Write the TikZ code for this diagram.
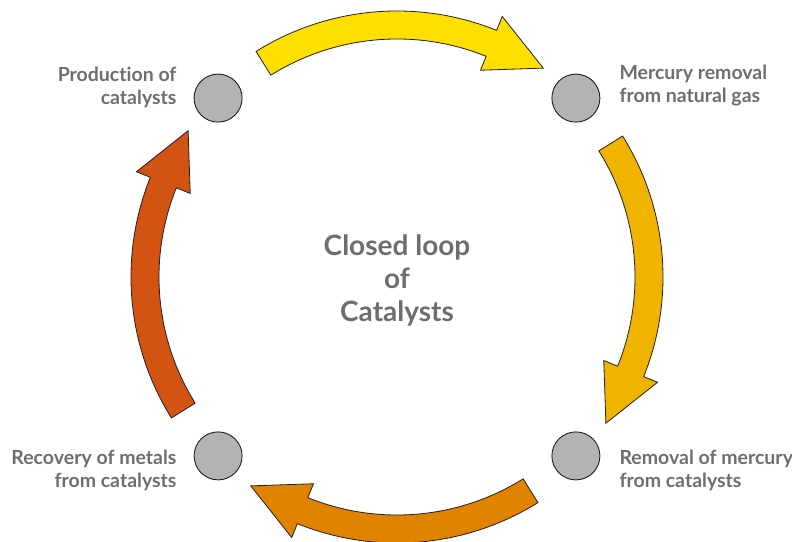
\documentclass[tikz,border=0pt]{standalone}
\usepackage{fontspec}
\setmainfont{Lato}[Ligatures={NoCommon}]
\usetikzlibrary{positioning}
\definecolor{stagegrey}{HTML}{B3B3B4}
\definecolor{labelgrey}{HTML}{6D6E71}
\definecolor{outline}{HTML}{231F20}
\definecolor{loopyellow}{HTML}{FFDF00}
\definecolor{loopamber}{HTML}{F0B400}
\definecolor{looporange}{HTML}{E08300}
\definecolor{loopred}{HTML}{D35313}
\tikzset{
  stage/.style={circle, draw=outline, fill=stagegrey, line width=0.9pt, minimum size=48pt, inner sep=0pt},
  stagetext/.style={text=labelgrey, font=\bfseries\fontsize{19.5}{23}\selectfont, inner sep=0pt},
  loopshaft/.style={draw=outline, line width=0.8pt, line join=miter}
}

\begin{document}
\begin{tikzpicture}
        \useasboundingbox (-397pt,-264pt) rectangle (395pt,277pt);
        \coordinate (loop) at (0,0);
        \foreach \a/\col in {90/loopyellow, 0/loopamber, -90/looporange, 180/loopred} {
            \filldraw[loopshaft, fill=\col, shift={(loop)}] ({\a+32}:266pt) arc[start angle=\a+32, end angle=\a-22, radius=266pt] -- ({\a-22}:281pt) -- ({\a-35}:255pt) -- ({\a-22}:223pt) -- ({\a-22}:238pt) arc[start angle=\a-22, end angle=\a+32, radius=238pt] -- cycle;
        }
        \node[stage] (production) at ([shift={(135:253pt)}]loop) {};
        \node[stage] (removal) at ([shift={(45:253pt)}]loop) {};
        \node[stage] (mercury) at ([shift={(-45:253pt)}]loop) {};
        \node[stage] (recovery) at ([shift={(-135:253pt)}]loop) {};
        \node[stagetext, align=right, left=17pt of production, yshift=11pt] (productiontext) {Production of\\catalysts};
        \node[stagetext, align=left, right=19pt of removal, yshift=13pt] (removaltext) {Mercury removal\\from natural gas};
        \node[stagetext, align=left, right=19pt of mercury, yshift=-14pt] (mercurytext) {Removal of mercury\\from catalysts};
        \node[stagetext, align=right, left=17pt of recovery, yshift=-14pt] (recoverytext) {Recovery of metals\\from catalysts};
        \node[text=labelgrey, font=\bfseries\fontsize{28}{33}\selectfont, align=center] (looptext) at ([yshift=-3pt]loop) {Closed loop\\of\\Catalysts};
\end{tikzpicture}
\end{document}
